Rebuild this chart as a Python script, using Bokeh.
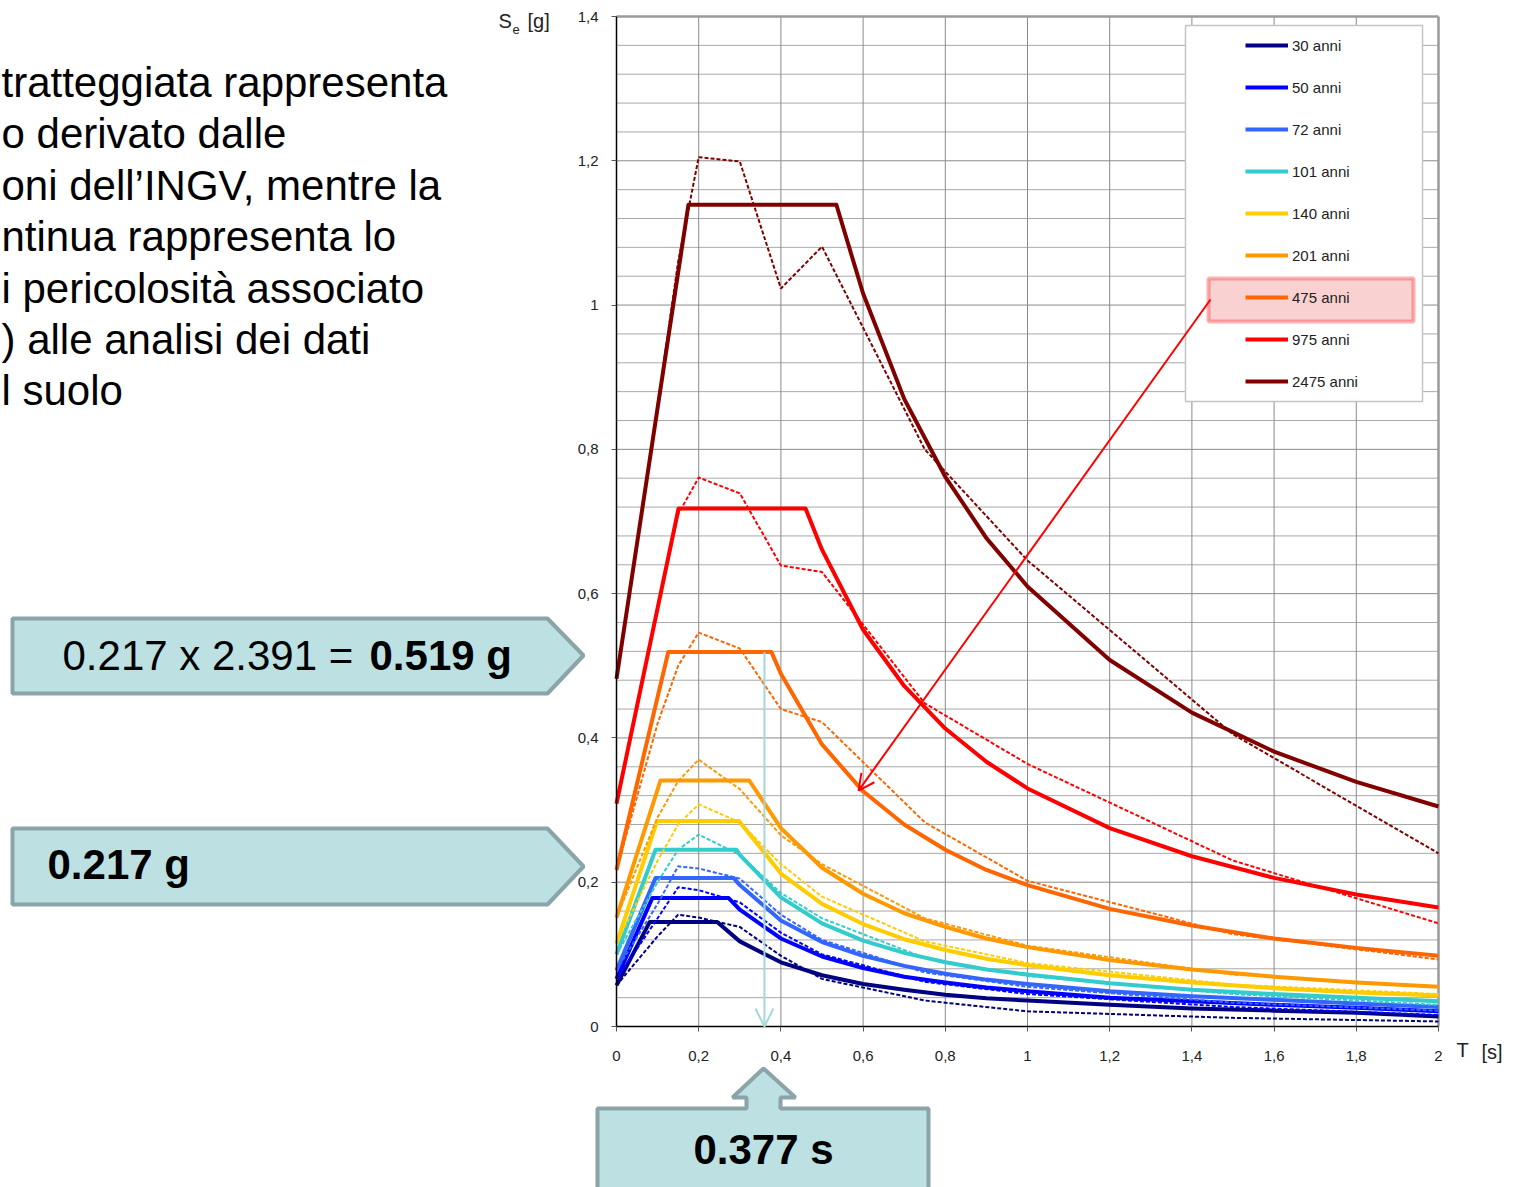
from bokeh.plotting import figure
from bokeh.models import (Range1d, FixedTicker, CustomJSTickFormatter, Legend, LegendItem,
                          LinearAxis, BoxAnnotation, Arrow, OpenHead)
from bokeh.core.properties import value
from bokeh.embed import file_html
from bokeh.resources import INLINE

# ---------------- data ----------------
LABELS = ["30 anni", "50 anni", "72 anni", "101 anni", "140 anni",
          "201 anni", "475 anni", "975 anni", "2475 anni"]
COLORS = ["#000080", "#0000ff", "#3366ff", "#33cccc", "#ffcc00",
          "#ff9900", "#ff6600", "#ff0000", "#800000"]

X_TICKS = [0, 0.2, 0.4, 0.6, 0.8, 1.0, 1.2, 1.4, 1.6, 1.8, 2.0]
Y_TICKS = [0, 0.2, 0.4, 0.6, 0.8, 1.0, 1.2, 1.4]

# solid lines: NTC spectra
T_30 = [0, 0.081, 0.245, 0.3, 0.4, 0.5, 0.6, 0.7, 0.8, 0.9, 1.0, 1.2, 1.4, 1.6, 1.8, 2.0]
SE_30 = [0.057, 0.145, 0.145, 0.118, 0.089, 0.071, 0.059, 0.051, 0.044, 0.039, 0.036, 0.030, 0.025, 0.022, 0.019, 0.014]
T_50 = [0, 0.087, 0.273, 0.3, 0.4, 0.5, 0.6, 0.7, 0.8, 0.9, 1.0, 1.2, 1.4, 1.6, 1.8, 2.0]
SE_50 = [0.066, 0.178, 0.178, 0.162, 0.122, 0.097, 0.081, 0.069, 0.061, 0.054, 0.049, 0.040, 0.035, 0.030, 0.026, 0.021]
T_72 = [0, 0.095, 0.285, 0.3, 0.4, 0.5, 0.6, 0.7, 0.8, 0.9, 1.0, 1.2, 1.4, 1.6, 1.8, 2.0]
SE_72 = [0.078, 0.206, 0.206, 0.196, 0.147, 0.117, 0.098, 0.084, 0.073, 0.065, 0.059, 0.049, 0.042, 0.037, 0.032, 0.027]
T_101 = [0, 0.095, 0.292, 0.3, 0.4, 0.5, 0.6, 0.7, 0.8, 0.9, 1.0, 1.2, 1.4, 1.6, 1.8, 2.0]
SE_101 = [0.100, 0.245, 0.245, 0.238, 0.179, 0.143, 0.119, 0.102, 0.089, 0.079, 0.072, 0.060, 0.051, 0.045, 0.040, 0.035]
T_140 = [0, 0.099, 0.298, 0.4, 0.5, 0.6, 0.7, 0.8, 0.9, 1.0, 1.2, 1.4, 1.6, 1.8, 2.0]
SE_140 = [0.115, 0.285, 0.285, 0.212, 0.170, 0.142, 0.121, 0.106, 0.094, 0.085, 0.071, 0.061, 0.053, 0.047, 0.043]
T_201 = [0, 0.107, 0.323, 0.4, 0.5, 0.6, 0.7, 0.8, 0.9, 1.0, 1.2, 1.4, 1.6, 1.8, 2.0]
SE_201 = [0.151, 0.341, 0.341, 0.275, 0.220, 0.184, 0.157, 0.138, 0.122, 0.110, 0.092, 0.079, 0.069, 0.061, 0.055]
T_475 = [0, 0.126, 0.377, 0.4, 0.5, 0.6, 0.7, 0.8, 0.9, 1.0, 1.2, 1.4, 1.6, 1.8, 2.0]
SE_475 = [0.217, 0.519, 0.519, 0.489, 0.391, 0.326, 0.280, 0.245, 0.217, 0.196, 0.163, 0.140, 0.122, 0.109, 0.098]
T_975 = [0, 0.151, 0.46, 0.5, 0.6, 0.7, 0.8, 0.9, 1.0, 1.2, 1.4, 1.6, 1.8, 2.0]
SE_975 = [0.309, 0.718, 0.718, 0.661, 0.550, 0.472, 0.413, 0.367, 0.330, 0.275, 0.236, 0.206, 0.183, 0.165]
T_2475 = [0, 0.175, 0.535, 0.6, 0.7, 0.8, 0.9, 1.0, 1.2, 1.4, 1.6, 1.8, 2.0]
SE_2475 = [0.482, 1.139, 1.139, 1.016, 0.870, 0.762, 0.677, 0.610, 0.508, 0.435, 0.381, 0.339, 0.305]

# dashed lines: INGV hazard spectra
T_INGV = [0, 0.1, 0.15, 0.2, 0.3, 0.4, 0.5, 0.75, 1.0, 1.5, 2.0]
INGV_30 = [0.057, 0.125, 0.155, 0.151, 0.138, 0.098, 0.066, 0.036, 0.021, 0.012, 0.007]
INGV_50 = [0.066, 0.150, 0.193, 0.189, 0.172, 0.130, 0.100, 0.062, 0.045, 0.027, 0.016]
INGV_72 = [0.078, 0.170, 0.222, 0.219, 0.205, 0.155, 0.120, 0.075, 0.055, 0.033, 0.022]
INGV_101 = [0.100, 0.200, 0.245, 0.266, 0.238, 0.185, 0.150, 0.095, 0.070, 0.045, 0.030]
INGV_140 = [0.115, 0.230, 0.280, 0.308, 0.283, 0.225, 0.180, 0.118, 0.088, 0.058, 0.045]
INGV_201 = [0.151, 0.290, 0.340, 0.370, 0.329, 0.265, 0.225, 0.150, 0.112, 0.072, 0.055]
INGV_475 = [0.217, 0.420, 0.500, 0.546, 0.524, 0.440, 0.422, 0.283, 0.202, 0.128, 0.093]
INGV_975 = [0.309, 0.580, 0.710, 0.761, 0.739, 0.639, 0.630, 0.448, 0.364, 0.230, 0.143]
INGV_2475 = [0.482, 0.860, 1.060, 1.205, 1.199, 1.023, 1.081, 0.800, 0.646, 0.405, 0.240]

# annotation values
PLATEAU_475 = 0.519
ARROW_T = 0.36
ARROW_TARGET = (0.589, 0.327)

PARAGRAPH = ["tratteggiata rappresenta", "o derivato dalle",
             "oni dell\u2019INGV, mentre la", "ntinua rappresenta lo",
             "i pericolosit\u00e0 associato", ") alle analisi dei dati", "l suolo"]

SOLID = [(T_30, SE_30), (T_50, SE_50), (T_72, SE_72), (T_101, SE_101), (T_140, SE_140),
         (T_201, SE_201), (T_475, SE_475), (T_975, SE_975), (T_2475, SE_2475)]
DASHED = [INGV_30, INGV_50, INGV_72, INGV_101, INGV_140, INGV_201, INGV_475, INGV_975, INGV_2475]

# ---------------- layout ----------------
W, H = 1513, 1187
FL, FT, FW, FH = 616, 16, 822, 1010      # chart area in page pixels
FB = FT + FH
X_MAX, Y_MAX = 2.0, 1.4
FONT = "Liberation Sans"
kx = X_MAX / FW
ky = Y_MAX / FH

p = figure(width=W, height=H, output_backend="svg", toolbar_location=None, title=None,
           x_axis_location=None, y_axis_location=None,
           x_range=Range1d(0, W), y_range=Range1d(H, 0), min_border=0)
p.extra_x_ranges = {"T": Range1d(-FL * kx, (W - FL) * kx)}
p.extra_y_ranges = {"S": Range1d(-(H - FB) * ky, Y_MAX + FT * ky)}
p.background_fill_color = "white"
p.border_fill_color = "white"
p.outline_line_color = None
p.xgrid.visible = False
p.ygrid.visible = False
C = dict(x_range_name="T", y_range_name="S")

# ---- chart grid (in data units) ----
minor_y = [round(i * 0.04, 2) for i in range(1, 35) if i % 5 != 0]
p.segment(x0=[0] * len(minor_y), y0=minor_y, x1=[X_MAX] * len(minor_y), y1=minor_y,
          line_color="#a9a9a9", line_width=1, **C)
maj_y = Y_TICKS[1:-1]
p.segment(x0=[0] * len(maj_y), y0=maj_y, x1=[X_MAX] * len(maj_y), y1=maj_y,
          line_color="#8a8a8a", line_width=1, **C)
maj_x = X_TICKS[1:-1]
p.segment(x0=maj_x, y0=[0] * len(maj_x), x1=maj_x, y1=[Y_MAX] * len(maj_x),
          line_color="#8a8a8a", line_width=1, **C)
p.segment(x0=[0, X_MAX], y0=[Y_MAX, 0], x1=[X_MAX, X_MAX], y1=[Y_MAX, Y_MAX],
          line_color="#9a9a9a", line_width=2.5, **C)

# ---- curves ----
solid_renderers = []
for (tt, ss), col in zip(SOLID, COLORS):
    r = p.line(tt, ss, line_color=col, line_width=4, line_join="round", **C)
    solid_renderers.append(r)
for ss, col in zip(DASHED, COLORS):
    p.line(T_INGV, ss, line_color=col, line_width=2, line_dash="4 2", **C)

# ---- axes ----
fmt = CustomJSTickFormatter(code="var v = Math.round(tick*10)/10; return v.toString().replace('.', ',');")
xaxis = LinearAxis(ticker=FixedTicker(ticks=X_TICKS), formatter=fmt, fixed_location=0,
                   bounds=(0, X_MAX), **C)
yaxis = LinearAxis(ticker=FixedTicker(ticks=Y_TICKS), formatter=fmt, fixed_location=0,
                   bounds=(0, Y_MAX), **C)
for ax in (xaxis, yaxis):
    ax.axis_line_color = "black"
    ax.axis_line_width = 1.5
    ax.major_tick_line_color = "#555555"
    ax.major_tick_in = 0
    ax.major_tick_out = 5
    ax.minor_tick_line_color = None
    ax.major_label_text_font = FONT
    ax.major_label_text_font_size = "15px"
    ax.major_label_text_color = "#222222"
yaxis.major_label_standoff = 13
xaxis.major_label_standoff = 19
p.add_layout(xaxis, "below")
p.add_layout(yaxis, "left")

# ---- legend ----
p.quad(left=[1185], right=[1422], top=[25], bottom=[401], fill_color="white",
       line_color="#c4c4c4", line_width=1.5)
legend = Legend(items=[LegendItem(label=lab, renderers=[r]) for lab, r in zip(LABELS, solid_renderers)],
                location=(1235, H - 401), glyph_width=43, glyph_height=20, label_height=20,
                spacing=22, padding=10, label_standoff=4, label_text_font=FONT,
                label_text_font_size="15px", label_text_color="#222222",
                background_fill_alpha=0, border_line_alpha=0)
p.add_layout(legend)
p.add_layout(BoxAnnotation(left=1208, right=1413, top=278, bottom=321,
                           fill_color="#ee7a7a", fill_alpha=0.35, line_color="#ff0000", line_width=4))

# ---- arrows ----
p.add_layout(Arrow(end=OpenHead(line_color="#ff0000", line_width=2, size=16),
                   x_start=(1210 - FL) * kx, y_start=(FB - 299) * ky,
                   x_end=ARROW_TARGET[0], y_end=ARROW_TARGET[1],
                   line_color="#ff0000", line_width=2, **C))
p.add_layout(Arrow(end=OpenHead(line_color="#a6d7da", line_width=2, size=18),
                   x_start=ARROW_T, y_start=PLATEAU_475, x_end=ARROW_T, y_end=0,
                   line_color="#a6d7da", line_width=2, **C))


def txt(x, y, s, size, bold=False, align="left", baseline="alphabetic", color="black"):
    p.text(x=[x], y=[y], text=[s], text_font=value(FONT), text_font_size=value(size),
           text_font_style=value("bold" if bold else "normal"), text_align=value(align),
           text_baseline=value(baseline), text_color=color)


# ---- axis titles ----
txt(498, 20, "S", "20px", baseline="middle", color="#222222")
txt(512, 29, "e", "13px", baseline="middle", color="#222222")
txt(527, 20, "[g]", "20px", baseline="middle", color="#222222")
txt(1456, 1049, "T", "20px", baseline="middle", color="#222222")
txt(1481, 1051, "[s]", "20px", baseline="middle", color="#222222")

# ---- paragraph ----
for i, line in enumerate(PARAGRAPH):
    txt(1, 82 + 51.4 * i, line, "42px")

# ---- callouts ----
FILL, EDGE = "#bde0e3", "#8aa4a7"
p.patch([12, 547, 583, 547, 12], [618, 618, 655, 693, 693],
        fill_color=FILL, line_color=EDGE, line_width=4)
p.patch([12, 547, 583, 547, 12], [828, 828, 866, 904, 904],
        fill_color=FILL, line_color=EDGE, line_width=4)
p.patch([597, 746, 746, 732, 763, 795, 780, 780, 928, 928, 597],
        [1108, 1108, 1097, 1097, 1068, 1097, 1097, 1108, 1108, 1200, 1200],
        fill_color=FILL, line_color=EDGE, line_width=4)
txt(62, 655, "0.217 x 2.391 =", "42px")
txt(369, 655, "0.519 g", "42px", bold=True)
txt(47, 864, "0.217 g", "42px", bold=True)
txt(763, 1149, "0.377 s", "42px", bold=True, align="center")

open("out.html", "w").write(file_html(p, INLINE))
